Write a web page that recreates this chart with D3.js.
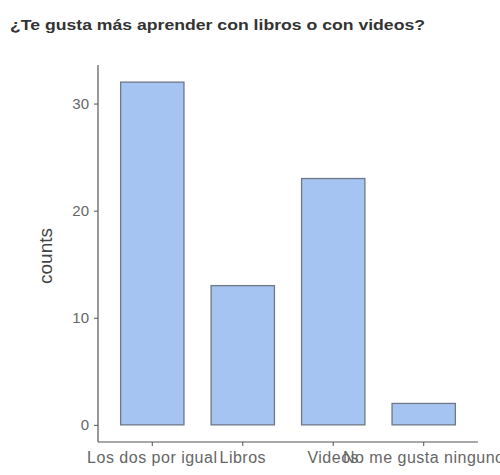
<!DOCTYPE html>
<html><head><meta charset="utf-8">
<script src="https://cdn.jsdelivr.net/npm/d3@7"></script>
<style>body{margin:0;background:#fff}svg{display:block}</style>
</head><body>
<script>
const title = "¿Te gusta más aprender con libros o con videos?";
const categories = ["Los dos por igual", "Libros", "Videos", "No me gusta ninguno"];
const counts = [32, 13, 23, 2];
const yTicks = [0, 10, 20, 30];
const yLabel = "counts";

const W = 500, H = 475;
const svg = d3.select("body").append("svg").attr("width", W).attr("height", H);
const x = d3.scaleBand().domain(categories).range([98, 478]).paddingInner(0.3).paddingOuter(0.25);
const y = d3.scaleLinear().domain([-1.6, 33.6]).range([442, 65]);
const font = "Liberation Sans, Arial, sans-serif";

svg.append("text").attr("x", 10).attr("y", 30).text(title)
  .attr("font-family", font).attr("font-weight", "bold")
  .attr("font-size", 15.5).attr("fill", "#333")
  .attr("textLength", 415).attr("lengthAdjust", "spacingAndGlyphs");

svg.selectAll("rect.bar").data(categories).enter().append("rect").attr("class", "bar")
  .attr("x", d => x(d)).attr("width", x.bandwidth())
  .attr("y", (d, i) => y(counts[i])).attr("height", (d, i) => y(0) - y(counts[i]))
  .attr("fill", "#a6c4f2").attr("stroke", "#6e7888").attr("stroke-width", 1.3);

const yAxis = svg.append("g").attr("transform", "translate(98,0)")
  .call(d3.axisLeft(y).tickValues(yTicks).tickSize(4).tickPadding(5));
const xAxis = svg.append("g").attr("transform", "translate(0,442)")
  .call(d3.axisBottom(x).tickSize(4).tickPadding(6));
[yAxis, xAxis].forEach(g => {
  g.select(".domain").attr("stroke", "#555").attr("stroke-width", 1.2);
  g.selectAll(".tick line").attr("stroke", "#555");
  g.selectAll("text").attr("fill", "#666").attr("font-family", font).attr("font-size", 15);
});
xAxis.selectAll("text").attr("font-size", 16).attr("letter-spacing", 0.5);
yAxis.select(".domain").attr("d", "M0,65V442");
xAxis.select(".domain").attr("d", "M98,0H478");

svg.append("text").attr("transform", "translate(52,256) rotate(-90)").attr("text-anchor", "middle")
  .text(yLabel).attr("font-family", font).attr("font-size", 19).attr("fill", "#444");
</script>
</body></html>
